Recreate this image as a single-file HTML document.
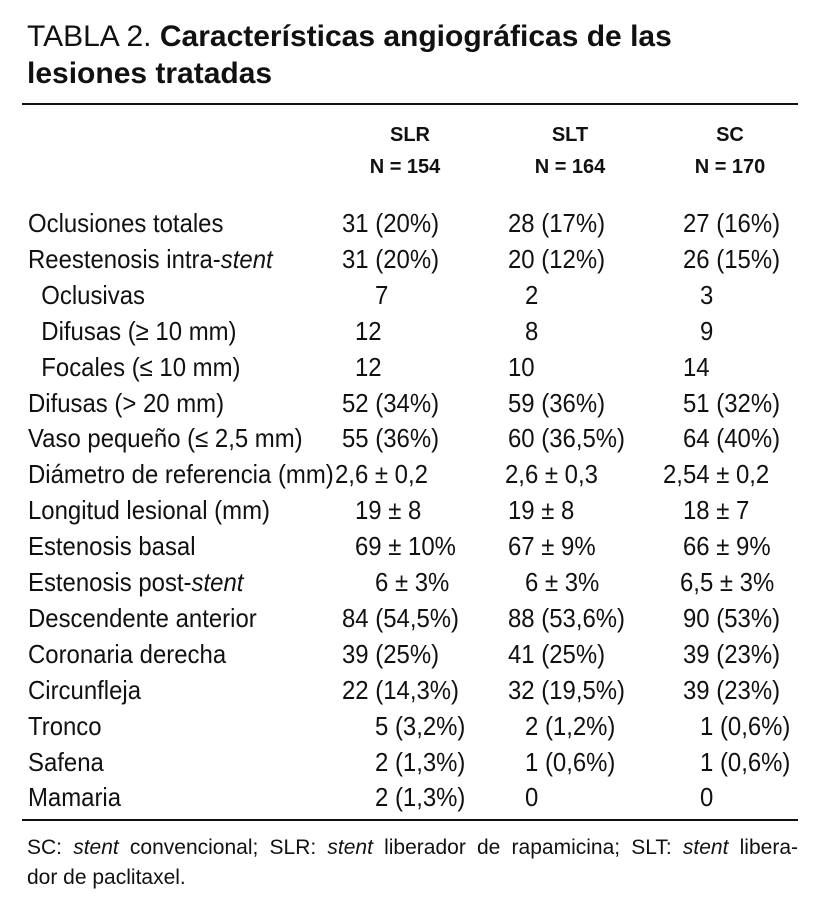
<!DOCTYPE html>
<html><head><meta charset="utf-8"><style>
html,body{margin:0;padding:0;background:#fff;}
body{width:833px;height:908px;position:relative;overflow:hidden;font-family:"Liberation Sans Narrow","Liberation Sans",sans-serif;color:#111;}
.t{position:absolute;white-space:nowrap;font-size:26px;line-height:28px;transform:scaleX(0.92);transform-origin:0 50%;}
.title{position:absolute;left:27px;font-family:"Liberation Sans",sans-serif;font-size:30px;line-height:32px;white-space:nowrap;}
.rule{position:absolute;left:22px;width:776px;height:2px;background:#111;}
.h{position:absolute;font-weight:bold;font-size:20px;text-align:center;width:120px;line-height:24px;}
.foot{position:absolute;left:27px;font-size:21px;line-height:30px;width:771px;white-space:nowrap;}
.j{text-align:justify;text-align-last:justify;white-space:normal;}
</style></head><body>
<div class="title" style="top:21px">TABLA 2. <b>Características angiográficas de las</b></div>
<div class="title" style="top:58px"><b>lesiones tratadas</b></div>
<div class="rule" style="top:103px"></div>
<div class="h" style="left:350px;top:123px">SLR</div>
<div class="h" style="left:345px;top:155px">N = 154</div>
<div class="h" style="left:510px;top:123px">SLT</div>
<div class="h" style="left:510px;top:155px">N = 164</div>
<div class="h" style="left:670px;top:123px">SC</div>
<div class="h" style="left:670px;top:155px">N = 170</div>
<div id="rows"></div>
<div class="rule" style="top:819px"></div>
<div class="foot j" style="top:833px">SC: <i>stent</i> convencional; SLR: <i>stent</i> liberador de rapamicina; SLT: <i>stent</i> libera-</div>
<div class="foot" style="top:863px">dor de paclitaxel.</div>
<script>
const labels=["Oclusiones totales","Reestenosis intra-<i>stent</i>","&nbsp;&nbsp;Oclusivas","&nbsp;&nbsp;Difusas (≥ 10 mm)","&nbsp;&nbsp;Focales (≤ 10 mm)","Difusas (&gt; 20 mm)","Vaso pequeño (≤ 2,5 mm)","Diámetro de referencia (mm)","Longitud lesional (mm)","Estenosis basal","Estenosis post-<i>stent</i>","Descendente anterior","Coronaria derecha","Circunfleja","Tronco","Safena","Mamaria"];
const slr=["31 (20%)","31 (20%)","7","12","12","52 (34%)","55 (36%)","2,6 ± 0,2","19 ± 8","69 ± 10%","6 ± 3%","84 (54,5%)","39 (25%)","22 (14,3%)","5 (3,2%)","2 (1,3%)","2 (1,3%)"];
const slt=["28 (17%)","20 (12%)","2","8","10","59 (36%)","60 (36,5%)","2,6 ± 0,3","19 ± 8","67 ± 9%","6 ± 3%","88 (53,6%)","41 (25%)","32 (19,5%)","2 (1,2%)","1 (0,6%)","0"];
const sc=["27 (16%)","26 (15%)","3","9","14","51 (32%)","64 (40%)","2,54 ± 0,2","18 ± 7","66 ± 9%","6,5 ± 3%","90 (53%)","39 (23%)","39 (23%)","1 (0,6%)","1 (0,6%)","0"];
const x1=[342,342,375,355,355,342,342,335,355,355,375,342,342,342,375,375,375];
const x2=[508,508,525,525,508,508,508,505,508,508,525,508,508,508,525,525,525];
const x3=[683,683,700,700,683,683,683,663,683,683,680,683,683,683,700,700,700];
const root=document.getElementById('rows');
function cell(html,x,y,name){const d=document.createElement('div');d.className='t';d.innerHTML=html;d.style.left=x+'px';d.style.top=y+'px';


root.appendChild(d);}
labels.forEach((l,i)=>{const y=209+i*35.9;
cell(l,28,y,'row-label');
cell(slr[i],x1[i],y,'slr-value');
cell(slt[i],x2[i],y,'slt-value');
cell(sc[i],x3[i],y,'sc-value');});
</script>
</body></html>
